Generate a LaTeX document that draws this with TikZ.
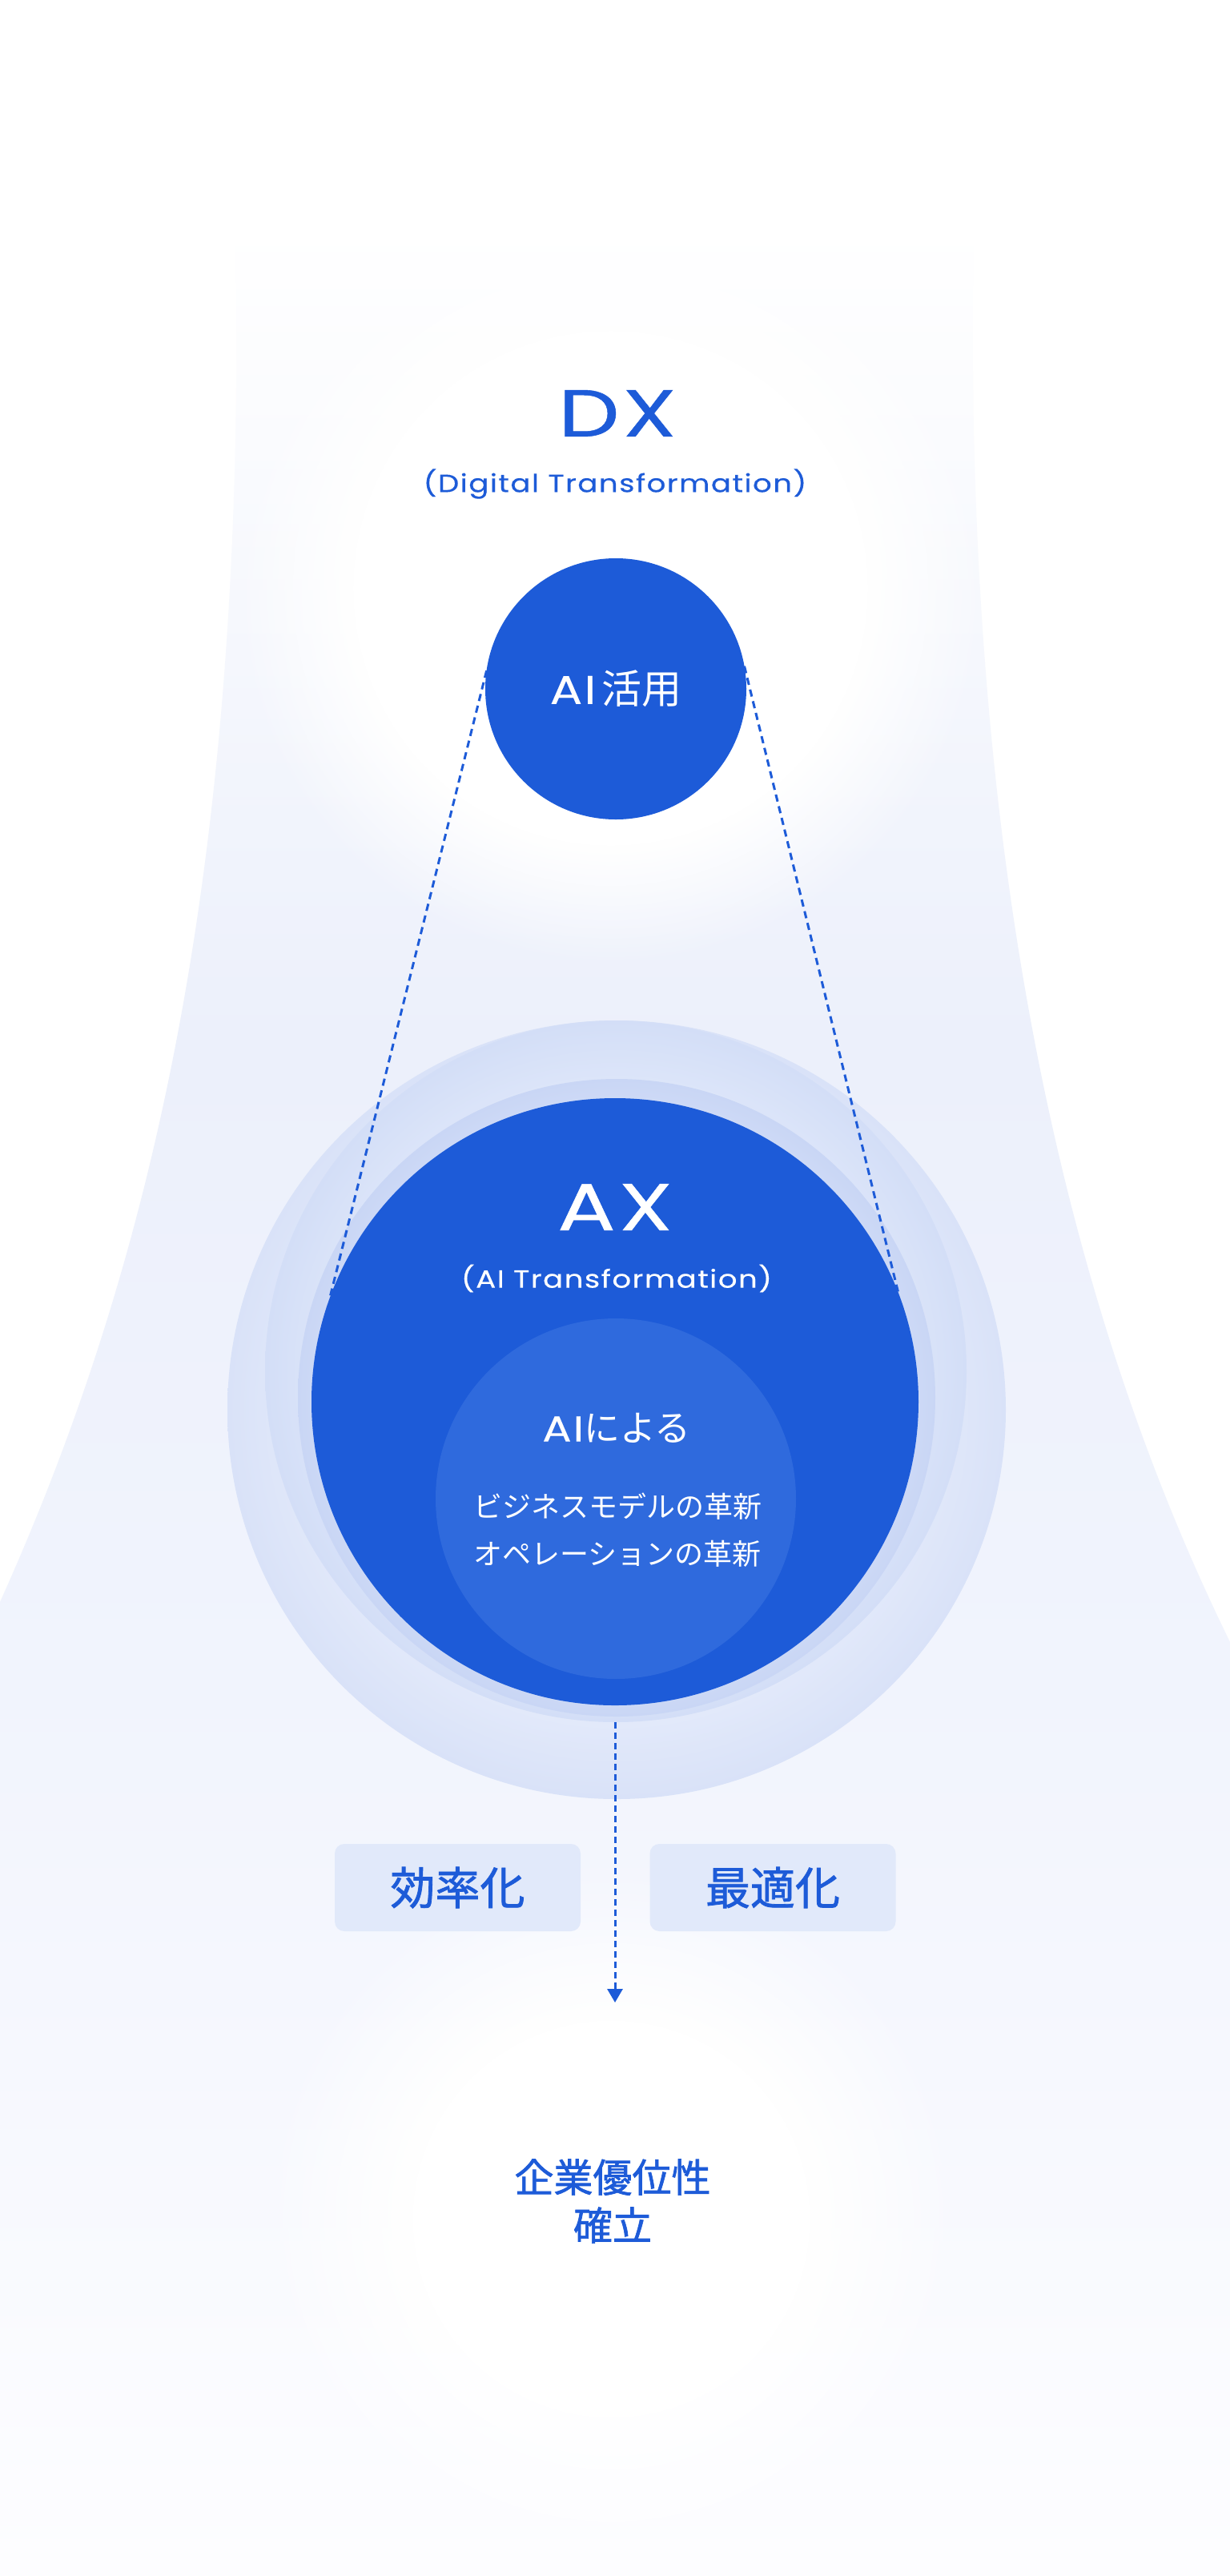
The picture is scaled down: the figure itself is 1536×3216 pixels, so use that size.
\documentclass[tikz,border=0pt]{standalone}
\usepackage{fontspec}
\usetikzlibrary{fadings,arrows.meta}
\newfontfamily\latw[FakeStretch=1.3,LetterSpace=5,FakeBold=0.6]{Poppins}
\newfontfamily\lats[FakeStretch=1.2,LetterSpace=4.6,FakeBold=0.3]{Poppins}
\newfontfamily\jp{Noto Sans CJK JP}
\newfontfamily\jpmed[FakeBold=1.4]{Noto Sans CJK JP}
\definecolor{brand}{HTML}{1D5BD8}
\definecolor{coreblue}{HTML}{2F6ADD}
\definecolor{tagfill}{HTML}{E1E9FA}
\definecolor{bgA}{HTML}{ECF0FB}
\definecolor{bgB}{HTML}{F1F4FD}
\definecolor{bgC}{HTML}{FDFDFF}
\definecolor{hAin}{HTML}{E6ECFB}
\definecolor{hAout}{HTML}{D9E2F8}
\definecolor{hBin}{HTML}{E0E8FA}
\definecolor{hBout}{HTML}{D3DEF7}
\definecolor{hCin}{HTML}{D6E0F8}
\definecolor{hCout}{HTML}{C9D6F5}
\pgfdeclareradialshading{haloA}{\pgfpointorigin}{color(0bp)=(hAin); color(18bp)=(hAin); color(25bp)=(hAout); color(50bp)=(hAout)}
\pgfdeclareradialshading{haloB}{\pgfpointorigin}{color(0bp)=(hBin); color(19bp)=(hBin); color(25bp)=(hBout); color(50bp)=(hBout)}
\pgfdeclareradialshading{haloC}{\pgfpointorigin}{color(0bp)=(hCin); color(20bp)=(hCin); color(25bp)=(hCout); color(50bp)=(hCout)}
\pgfdeclareradialshading{glowshade}{\pgfpointorigin}{color(0bp)=(pgftransparent!0); color(17bp)=(pgftransparent!0); color(25bp)=(pgftransparent!100); color(50bp)=(pgftransparent!100)}
\pgfdeclarefading{softglow}{\pgfuseshading{glowshade}}
\pgfdeclareradialshading{glowshadeB}{\pgfpointorigin}{color(0bp)=(pgftransparent!0); color(14bp)=(pgftransparent!0); color(25bp)=(pgftransparent!100); color(50bp)=(pgftransparent!100)}
\pgfdeclarefading{softglowB}{\pgfuseshading{glowshadeB}}
\begin{document}
\begin{tikzpicture}[x=1pt,y=-1pt,
  disc/.style={circle, inner sep=0pt, outer sep=0pt, draw=none},
  link/.style={draw=brand, line width=3pt, dash pattern=on 9pt off 6pt},
  flow/.style={draw=brand, line width=3pt, dash pattern=on 8pt off 5pt, -{Triangle[width=19pt,length=17pt]}},
  tag/.style={fill=tagfill, rounded corners=12pt, minimum width=307pt, minimum height=109pt, inner sep=0pt, text=brand, font=\jpmed\fontsize{56}{60}\selectfont},
  latbig/.style={font=\latw\fontsize{83}{90}\selectfont},
  latsub/.style={font=\lats\fontsize{31}{36}\selectfont},
]
\useasboundingbox (0,0) rectangle (1536,3216);
\fill[white] (0,0) rectangle (1536,3216);
% funnel background
\begin{scope}
\clip (294,285) .. controls (310,1100) and (180,1600) .. (0,2000) -- (0,3216) -- (1536,3216) -- (1536,2050) .. controls (1340,1650) and (1200,1100) .. (1216,285) -- cycle;
\shade[top color=white, bottom color=bgA] (0,280) rectangle (1536,1300);
\shade[top color=bgA, bottom color=bgB] (0,1299) rectangle (1536,2100);
\shade[top color=bgB, bottom color=bgC] (0,2099) rectangle (1536,3216);
\end{scope}
% glows
\fill[white, path fading=softglow] (762,734) circle (470pt);
\fill[white, path fading=softglowB] (763,2770) circle (440pt);
% AX halos
\shade[shading=haloA] (770,1760) circle (486pt);
\shade[shading=haloB] (769,1712) circle (438pt);
\shade[shading=haloC] (770,1745) circle (398pt);
% main discs
\node[disc, fill=brand, minimum size=326pt, text=white, font=\fontsize{50}{56}\selectfont] (ai) at (769,860) {{\lats AI}\hspace{7pt}{\jp 活用}};
\node[disc, fill=brand, minimum size=758pt] (ax) at (768,1750) {};
\node[disc, fill=coreblue, minimum size=450pt] (core) at (769,1871) {};
% texts
\node[latbig, text=brand] (dx) at (771,516) {DX};
\node[latsub, text=brand] (dxsub) at (768,604) {(Digital Transformation)};
\node[latbig, text=white] (axt) at (768,1507) {AX};
\node[latsub, text=white] (axsub) at (770,1596) {(AI Transformation)};
\node[text=white, font=\fontsize{45}{50}\selectfont] (aiby) at (770,1783) {{\lats AI}{\jp による}};
\node[text=white, align=center, font=\jp\fontsize{36}{59}\selectfont] (innov) at (771,1910) {ビジネスモデルの革新\\オペレーションの革新};
% connectors
\draw[link] (ai.172) -- (ax.160);
\draw[link] (ai.10) -- (ax.21);
\coordinate (tip) at (768,2500);
\draw[flow, shorten <=21pt] (ax.south) -- (tip);
% tags
\node[tag] (eff) at (571.5,2356.5) {効率化};
\node[tag] (opt) at (965,2356.5) {最適化};
% goal
\node[text=brand, align=center, font=\jpmed\fontsize{49}{60}\selectfont] (goal) at (765,2748) {企業優位性\\確立};
\end{tikzpicture}
\end{document}
